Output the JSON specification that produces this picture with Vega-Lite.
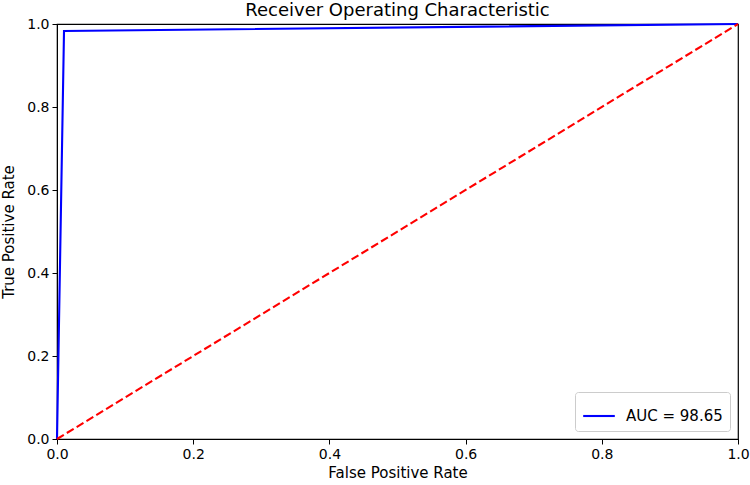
{
  "$schema": "https://vega.github.io/schema/vega-lite/v6.json",
  "width": 681,
  "height": 415,
  "autosize": "none",
  "padding": {"left": 57, "top": 24, "right": 12, "bottom": 46},
  "background": "white",
  "config": {
    "font": "DejaVu Sans",
    "view": {"stroke": "black", "strokeWidth": 1.2},
    "axis": {
      "grid": false,
      "domainColor": "black",
      "tickColor": "black",
      "tickSize": 5,
      "labelFontSize": 14,
      "labelColor": "black",
      "labelFlush": false,
      "titleFontSize": 15,
      "titleFontWeight": "normal",
      "titleColor": "black",
      "labelFont": "DejaVu Sans",
      "titleFont": "DejaVu Sans"
    }
  },
  "title": {
    "text": "Receiver Operating Characteristic",
    "fontSize": 18,
    "fontWeight": "normal",
    "font": "DejaVu Sans",
    "color": "black",
    "offset": -3
  },
  "layer": [
    {
      "data": {"values": [
        {"fpr": 0.0, "tpr": 0.0, "series": "AUC = 98.65"},
        {"fpr": 0.0103, "tpr": 0.983, "series": "AUC = 98.65"},
        {"fpr": 1.0, "tpr": 1.0, "series": "AUC = 98.65"}
      ]},
      "mark": {"type": "line", "strokeWidth": 2.1, "clip": false},
      "encoding": {
        "x": {"field": "fpr", "type": "quantitative", "scale": {"domain": [0, 1], "nice": false},
          "axis": {"title": "False Positive Rate", "values": [0, 0.2, 0.4, 0.6, 0.8, 1.0], "format": ".1f", "labelPadding": 3, "titleY": 26}},
        "y": {"field": "tpr", "type": "quantitative", "scale": {"domain": [0, 1], "nice": false},
          "axis": {"title": "True Positive Rate", "values": [0, 0.2, 0.4, 0.6, 0.8, 1.0], "format": ".1f", "labelPadding": 3, "titleX": -41}},
        "color": {"field": "series", "type": "nominal", "scale": {"range": ["blue"]},
          "legend": {
            "title": null,
            "orient": "bottom-right",
            "offset": 8,
            "fillColor": "white",
            "strokeColor": "#cccccc",
            "cornerRadius": 3,
            "padding": 7,
            "symbolType": "stroke",
            "symbolSize": 1000,
            "symbolStrokeWidth": 2.1,
            "labelOffset": 10,
            "labelFontSize": 15,
            "labelFont": "DejaVu Sans",
            "labelColor": "black"
          }}
      }
    },
    {
      "data": {"values": [
        {"fpr": 0.0, "tpr": 0.0},
        {"fpr": 1.0, "tpr": 1.0}
      ]},
      "mark": {"type": "line", "color": "red", "strokeWidth": 2.1, "strokeDash": [8, 3.5]},
      "encoding": {
        "x": {"field": "fpr", "type": "quantitative"},
        "y": {"field": "tpr", "type": "quantitative"}
      }
    }
  ]
}
